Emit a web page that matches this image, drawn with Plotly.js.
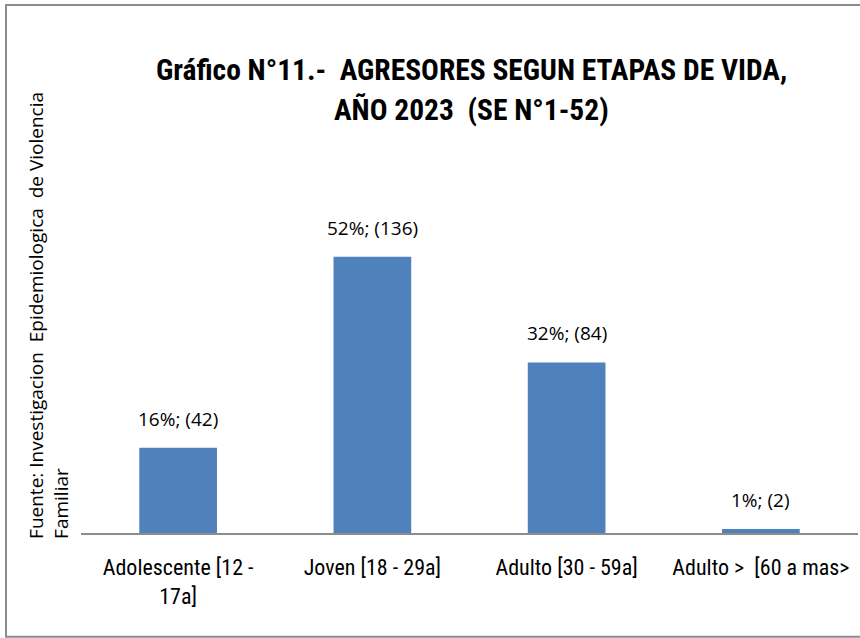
<!DOCTYPE html>
<html><head><meta charset="utf-8">
<script src="https://cdn.plot.ly/plotly-3.0.1.min.js"></script>
<style>html,body{margin:0;padding:0;background:#fff}#chart{width:860px;height:638px}</style>
</head><body><div id="chart"></div>
<script>
const categories = ["Adolescente [12 -<br>17a]", "Joven [18 - 29a]", "Adulto [30 - 59a]", "Adulto >  [60 a mas>"];
const counts = [42, 136, 84, 2];
const percents = ["16%", "52%", "32%", "1%"];
const labels = counts.map((c, i) => percents[i] + "; (" + c + ")");

const narrow = "Liberation Sans Narrow, Arial Narrow, Roboto Condensed, sans-serif";

const trace = {
  type: "bar",
  x: categories,
  y: counts,
  marker: {color: "#4F81BD"},
  hoverinfo: "none"
};

const valueAnnotations = categories.map((c, i) => ({
  x: c, y: counts[i], xref: "x", yref: "y",
  text: labels[i], showarrow: false,
  xanchor: "center", yanchor: "bottom", yshift: 14,
  font: {family: "Open Sans, sans-serif", size: 19, color: "#000"}
}));

const layout = {
  width: 860, height: 638,
  margin: {l: 81, r: 2, t: 228, b: 105},
  paper_bgcolor: "#fff", plot_bgcolor: "#fff",
  bargap: 0.6,
  showlegend: false,
  xaxis: {
    showline: true, linecolor: "#8c8c8c", linewidth: 2,
    ticks: "", ticklabelstandoff: 14,
    tickfont: {family: narrow, size: 22, color: "#000"},
    showgrid: false
  },
  yaxis: {
    range: [0, 150.2], visible: false, showgrid: false, zeroline: false
  },
  annotations: valueAnnotations.concat([
    {xref: "paper", yref: "paper", x: 0.502, y: 1.518, xanchor: "center", yanchor: "middle",
     text: "<b>Gráfico N°11.-  AGRESORES SEGUN ETAPAS DE VIDA,</b>", showarrow: false,
     font: {family: narrow, size: 29.5, color: "#000"}},
    {xref: "paper", yref: "paper", x: 0.502, y: 1.387, xanchor: "center", yanchor: "middle",
     text: "<b>AÑO 2023  (SE N°1-52)</b>", showarrow: false,
     font: {family: narrow, size: 29.5, color: "#000"}},
    {xref: "paper", yref: "paper", x: -0.0412, y: 0.715, xanchor: "center", yanchor: "middle",
     text: "Fuente: Investigacion  Epidemiologica  de Violencia<br>Familiar", showarrow: false,
     textangle: -90, align: "left",
     font: {family: "Open Sans, sans-serif", size: 19, color: "#000"}}
  ]),
  shapes: [
    {type: "rect", xref: "paper", yref: "paper", x0: -0.0965, x1: 1.01, y0: -0.34, y1: 1.731,
     line: {color: "#8c8c8c", width: 2}, fillcolor: "rgba(0,0,0,0)", layer: "below"}
  ]
};

Plotly.newPlot("chart", [trace], layout, {displayModeBar: false, staticPlot: true});
</script></body></html>
